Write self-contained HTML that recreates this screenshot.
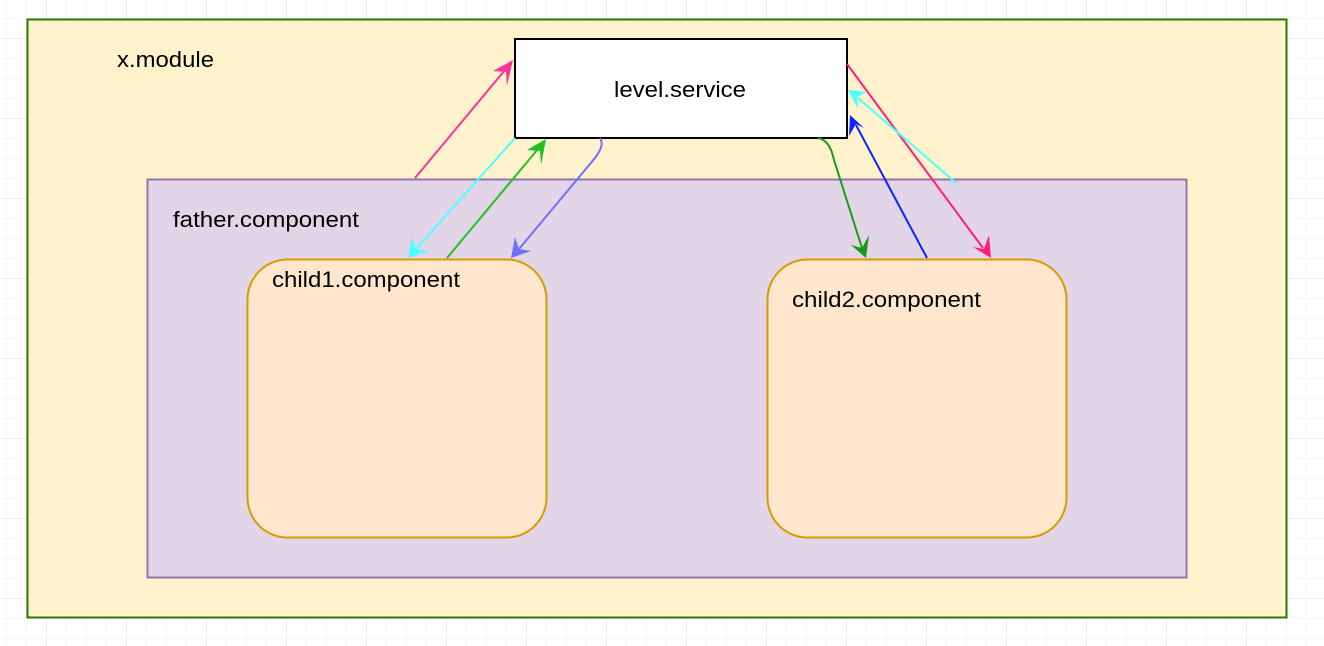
<!DOCTYPE html>
<html><head><meta charset="utf-8"><style>
html,body{margin:0;padding:0;background:#fff;}
body{width:1324px;height:646px;overflow:hidden;}
svg{display:block;}
text{font-family:"Liberation Sans",Helvetica,Arial,sans-serif;font-size:22px;fill:#000;}
</style></head><body>
<svg width="1324" height="646" viewBox="0 0 1324 646" xmlns="http://www.w3.org/2000/svg">
<defs>
<pattern id="minor" x="6" y="-2" width="20" height="20" patternUnits="userSpaceOnUse">
<path d="M0 0 V20 M0 0 H20" stroke="#efefef" stroke-width="1" fill="none"/>
</pattern>
<pattern id="major" x="46" y="38" width="80" height="80" patternUnits="userSpaceOnUse">
<path d="M0 0 V80 M0 0 H80" stroke="#d8d8d8" stroke-width="1" fill="none"/>
</pattern>
</defs>
<rect width="1324" height="646" fill="url(#minor)"/>
<rect width="1324" height="646" fill="url(#major)"/>
<rect x="27.5" y="19.5" width="1259" height="598" fill="#fff2cc" stroke="#2d7600" stroke-width="2"/>
<text x="117" y="67" textLength="97" lengthAdjust="spacingAndGlyphs">x.module</text>
<rect x="147.5" y="179.5" width="1039" height="398" fill="#e1d5e7" stroke="#9673a6" stroke-width="2"/>
<text x="173" y="227" textLength="186" lengthAdjust="spacingAndGlyphs">father.component</text>
<rect x="247.5" y="259.5" width="299" height="278" rx="40" fill="#ffe6cc" stroke="#d79b00" stroke-width="2"/>
<text x="272" y="287" textLength="188" lengthAdjust="spacingAndGlyphs">child1.component</text>
<rect x="767.5" y="259.5" width="299" height="278" rx="40" fill="#ffe6cc" stroke="#d79b00" stroke-width="2"/>
<text x="792" y="307" textLength="189" lengthAdjust="spacingAndGlyphs">child2.component</text>
<rect x="515" y="39" width="332" height="99" fill="#fff" stroke="#000" stroke-width="2"/>
<text x="614" y="97" textLength="132" lengthAdjust="spacingAndGlyphs">level.service</text>
<g stroke-width="2" fill="none">
<line x1="415" y1="178" x2="505" y2="70" stroke="#ff3399"/>
<line x1="515" y1="138" x2="416" y2="249" stroke="#4dffff"/>
<line x1="447" y1="258" x2="538" y2="149" stroke="#22c022"/>
<path d="M600 138 Q605 145 595 158 L519 249" stroke="#7070ff"/>
<line x1="847" y1="64" x2="983" y2="248" stroke="#ff1f7a"/>
<line x1="956" y1="183" x2="858" y2="98" stroke="#4dffff"/>
<line x1="927" y1="258" x2="856" y2="125" stroke="#0a24ff"/>
<path d="M818 138 Q830 140 834 160 L862 248" stroke="#1a9a1a"/>
</g>
<g stroke="none">
<polygon points="513,60 493,71 506,72 507,86" fill="#ff3399"/>
<polygon points="408,258 412,237 416,249 428,251" fill="#4dffff"/>
<polygon points="546,139 527,150 540,151 541,165" fill="#22c022"/>
<polygon points="511,258 515,237 519,249 531,251" fill="#7070ff"/>
<polygon points="991,258 973,247 984,249 989,235" fill="#ff1f7a"/>
<polygon points="848,90 867,92 857,97 858,109" fill="#4dffff"/>
<polygon points="850,115 864,128 856,124 849,136" fill="#0a24ff"/>
<polygon points="866,258 851,245 862,248 869,235" fill="#1a9a1a"/>
</g>
</svg>
</body></html>
